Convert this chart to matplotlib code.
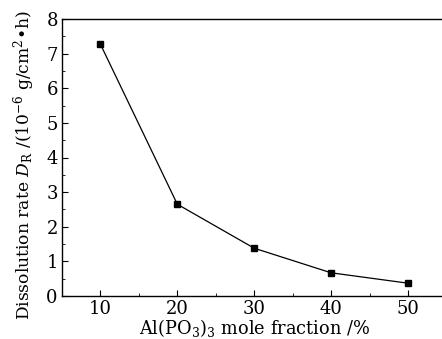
import matplotlib
matplotlib.use("Agg")
import matplotlib.pyplot as plt
from matplotlib.ticker import MultipleLocator

fraction = [10, 20, 30, 40, 50]
rate = [7.27, 2.65, 1.38, 0.67, 0.37]

plt.rcParams['font.family'] = ['DejaVu Serif']
plt.rcParams['mathtext.fontset'] = 'dejavuserif'

fig = plt.figure(figsize=(4.42, 3.39), dpi=100)
W, H = 442, 339
ax = fig.add_axes([62 / W, (H - 296) / H, (442 - 62) / W + 0.01, (296 - 19) / H])
ax.plot(fraction, rate, color='black', lw=0.9, marker='s', ms=5, mfc='black', mec='black')
ax.set_xlim(5, 55)
ax.set_ylim(0, 8)
ax.xaxis.set_major_locator(MultipleLocator(10))
ax.xaxis.set_minor_locator(MultipleLocator(5))
ax.yaxis.set_major_locator(MultipleLocator(1))
ax.yaxis.set_minor_locator(MultipleLocator(0.5))
ax.tick_params(which='both', direction='in', labelsize=13, top=False, right=False)
ax.tick_params(which='major', length=4, pad=3)
ax.tick_params(which='minor', length=2.5)
ax.spines['right'].set_visible(False)
for s in ax.spines.values():
    s.set_linewidth(1.0)
ax.set_xlabel(r'Al(PO$_3$)$_3$ mole fraction /%', fontsize=12.8, labelpad=-1)
ax.set_ylabel(r'Dissolution rate $D_\mathrm{R}$ /(10$^{-6}$ g/cm$^2$•h)', fontsize=12.3)
ax.yaxis.set_label_coords(-0.064, 0.472)
fig.savefig('out.png', dpi=100)
